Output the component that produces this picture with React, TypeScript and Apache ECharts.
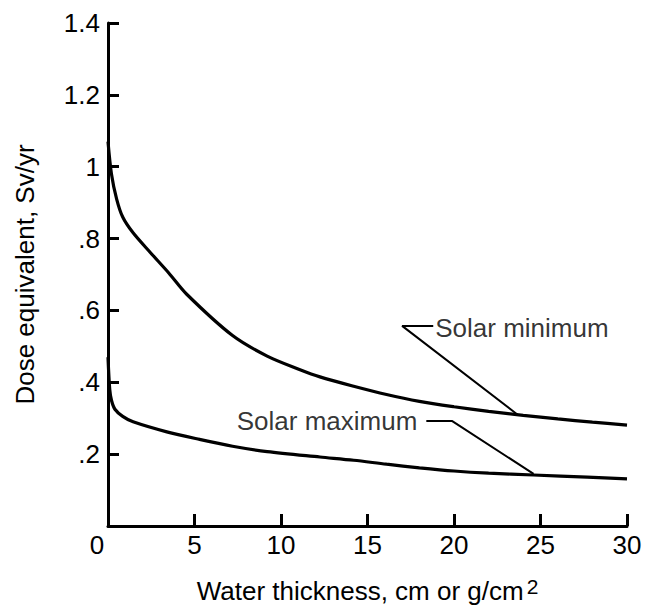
import React, { useEffect, useRef } from "react";
import * as echarts from "echarts";

const xTickLabels = ["0", "5", "10", "15", "20", "25", "30"];
const yTickLabels = ["", ".2", ".4", ".6", ".8", "1", "1.2", "1.4"];

const solarMinimum: [number, number][] = [
  [0, 1.07], [0.2, 0.98], [0.5, 0.91], [0.85, 0.86], [1.45, 0.816],
  [2.47, 0.76], [3.5, 0.705], [4.55, 0.645], [7.2, 0.53], [9.2, 0.473],
  [11.1, 0.435], [12.25, 0.415], [14.2, 0.389], [16.1, 0.366], [18, 0.347],
  [20, 0.332], [22, 0.319], [24, 0.308], [26, 0.298], [28, 0.289], [30, 0.281],
];

const solarMaximum: [number, number][] = [
  [0, 0.47], [0.1, 0.38], [0.2, 0.35], [0.4, 0.325], [0.85, 0.305],
  [1.45, 0.29], [3.4, 0.262], [5.3, 0.241], [7.2, 0.222], [9.2, 0.207],
  [12.25, 0.192], [14.2, 0.183], [16.1, 0.172], [18, 0.162], [20, 0.153],
  [22, 0.147], [24.6, 0.142], [27.7, 0.136], [30, 0.131],
];

const minLeader: [number, number][] = [[18.8, 0.557], [17.0, 0.557], [23.7, 0.309]];
const maxLeader: [number, number][] = [[18.4, 0.292], [19.9, 0.292], [24.6, 0.145]];

const minLabelAnchor: [number, number] = [18.8, 0.552];
const maxLabelAnchor: [number, number] = [18.4, 0.292];

const FONT = "'Liberation Sans', Arial, Helvetica, sans-serif";

export default function App() {
  const ref = useRef<HTMLDivElement>(null);
  useEffect(() => {
    document.body.style.margin = "0";
    const chart = echarts.init(ref.current!, null, { renderer: "svg" });
    chart.setOption({
      animation: false,
      backgroundColor: "#fff",
      grid: { left: 108, right: 18, top: 23, bottom: 81, containLabel: false, outerBoundsMode: "none" },
      xAxis: {
        type: "value",
        min: 0,
        max: 30,
        interval: 5,
        name: "Water thickness, cm or g/cm{sup|2}",
        nameLocation: "middle",
        nameGap: 50,
        nameTextStyle: {
          color: "#000",
          fontFamily: FONT,
          fontSize: 26,
          lineHeight: 30,
          rich: {
            sup: { fontSize: 21, lineHeight: 21, verticalAlign: "top", fontFamily: FONT, color: "#000", padding: [0, 0, 0, 3] },
          },
        },
        axisLine: { show: true, lineStyle: { color: "#000", width: 3 } },
        axisTick: { show: true, inside: true, length: 12, lineStyle: { color: "#000", width: 3 } },
        splitLine: { show: false },
        axisLabel: {
          color: "#000",
          fontFamily: FONT,
          fontSize: 26,
          margin: 6,
          formatter: (v: number) => {
            const i = Math.round(v / 5);
            const t = xTickLabels[i] ?? "";
            return i === 0 ? "{z|" + t + "}" : t;
          },
          rich: {
            z: { padding: [0, 22, 0, 0], fontSize: 26, fontFamily: FONT, color: "#000" },
          },
        },
      },
      yAxis: {
        type: "value",
        min: 0,
        max: 1.4,
        interval: 0.2,
        name: "Dose equivalent, Sv/yr",
        nameLocation: "middle",
        nameRotate: 90,
        nameGap: 70,
        nameTextStyle: { color: "#000", fontFamily: FONT, fontSize: 26 },
        axisLine: { show: true, lineStyle: { color: "#000", width: 3 } },
        axisTick: { show: true, inside: true, length: 11, lineStyle: { color: "#000", width: 3 } },
        splitLine: { show: false },
        axisLabel: {
          color: "#000",
          fontFamily: FONT,
          fontSize: 26,
          margin: 8,
          formatter: (v: number) => yTickLabels[Math.round(v / 0.2)] ?? "",
        },
      },
      series: [
        {
          type: "line",
          data: solarMinimum,
          showSymbol: false,
          smooth: 0.3,
          lineStyle: { color: "#000", width: 3.2 },
        },
        {
          type: "line",
          data: solarMaximum,
          showSymbol: false,
          smooth: 0.3,
          lineStyle: { color: "#000", width: 3.2 },
        },
        {
          type: "line",
          data: minLeader,
          showSymbol: false,
          lineStyle: { color: "#000", width: 2 },
        },
        {
          type: "line",
          data: maxLeader,
          showSymbol: false,
          lineStyle: { color: "#000", width: 2 },
        },
        {
          type: "scatter",
          symbolSize: 0,
          data: [
            { value: minLabelAnchor, label: { show: true, position: "right", distance: 2, formatter: "Solar minimum" } },
            { value: maxLabelAnchor, label: { show: true, position: "left", distance: 9, formatter: "Solar maximum" } },
          ],
          label: { color: "#000", fontFamily: FONT, fontSize: 26 },
        },
      ],
    });
    return () => chart.dispose();
  }, []);
  return <div ref={ref} style={{ width: 645, height: 607 }} />;
}
